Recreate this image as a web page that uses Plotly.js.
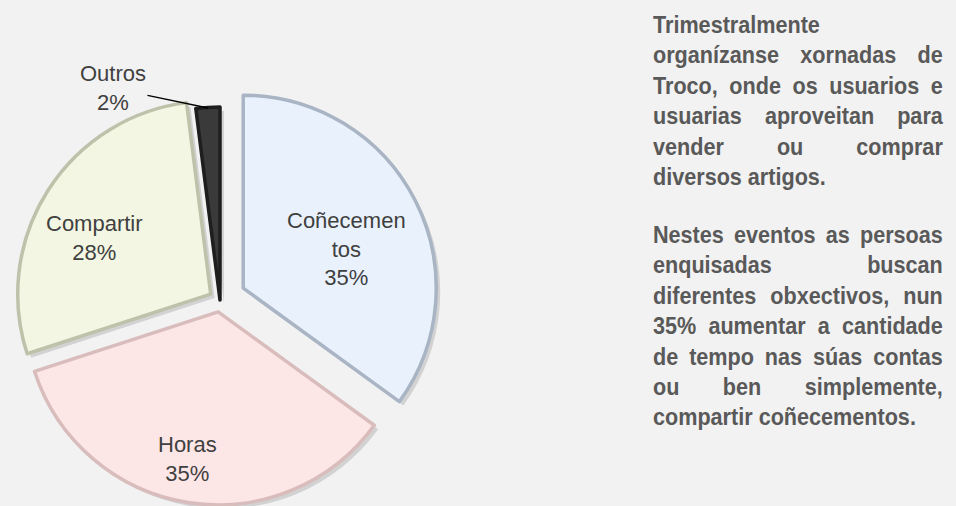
<!DOCTYPE html>
<html>
<head>
<meta charset="utf-8">
<script src="https://cdn.plot.ly/plotly-3.0.1.min.js"></script>
<style>
  html, body { margin: 0; background: #f2f2f2; overflow: hidden; }
  #wrap { position: relative; width: 956px; height: 506px; overflow: hidden; }
  #pie { position: absolute; left: 0; top: 0; width: 956px; height: 532px; }
  .note {
    position: absolute; left: 653px; top: 10px; width: 322px;
    transform: scaleX(0.9); transform-origin: 0 0;
    font-family: "Liberation Sans", Arial, sans-serif;
    font-weight: bold; font-size: 24px; line-height: 30.4px; color: #595959;
  }
  .note p { margin: 0 0 27.6px 0; }
  .note span { display: block; text-align: justify; text-align-last: justify; white-space: nowrap; }
  .note span.last { text-align-last: left; }
</style>
</head>
<body>
<div id="wrap">
  <div id="pie"></div>
  <div class="note">
    <p>
      <span class="last">Trimestralmente</span>
      <span>organízanse xornadas de</span>
      <span>Troco, onde os usuarios e</span>
      <span>usuarias aproveitan para</span>
      <span>vender ou comprar</span>
      <span class="last">diversos artigos.</span>
    </p>
    <p>
      <span>Nestes eventos as persoas</span>
      <span>enquisadas buscan</span>
      <span>diferentes obxectivos, nun</span>
      <span>35% aumentar a cantidade</span>
      <span>de tempo nas súas contas</span>
      <span>ou ben simplemente,</span>
      <span class="last">compartir coñecementos.</span>
    </p>
  </div>
</div>
<script>
let categories = ["Coñecementos", "Horas", "Compartir", "Outros"];
let shown_names = ["Coñecemen<br>tos", "Horas", "Compartir", "Outros"];
let shares = [35, 35, 28, 2];

// look
let slice_colors = ["#e9f2fc", "#fde6e6", "#f3f6e2", "#3a3a3a"];
let edge_colors = ["#a9b5c4", "#d9bcbc", "#bec2aa", "#1e1e1e"];
let pulls = [0.135, 0.062, 0.057, 0];
let label_dist = [0.57, 0.78, 0.67];      // fraction of radius, from the slice tip
let label_turn = [5, 2.5, -6];            // degrees off the slice middle

let label_font = "Liberation Sans, Arial, sans-serif";
const W = 956, H = 532;
const cx = 220, cy = 300, rad = 193;

const maxPull = Math.max(...pulls);
const half = rad * (1 + maxPull);

function pieDomain(dx, dy) {
  return {
    x: [(cx + dx - half) / W, (cx + dx + half) / W],
    y: [1 - (cy + dy + half) / H, 1 - (cy + dy - half) / H]
  };
}

// soft drop shadow under the slices
let shadow = {
  type: "pie",
  labels: categories,
  values: shares,
  textinfo: "none",
  sort: false,
  direction: "clockwise",
  rotation: 0,
  pull: pulls,
  marker: { colors: shares.map(() => "rgba(0,0,0,0.13)"), line: { width: 0 } },
  hoverinfo: "skip",
  domain: pieDomain(4, 4)
};

let trace = {
  type: "pie",
  labels: categories,
  values: shares,
  textinfo: "none",
  sort: false,
  direction: "clockwise",
  rotation: 0,
  pull: pulls,
  marker: {
    colors: slice_colors,
    line: { color: edge_colors, width: 3.5 }
  },
  hoverinfo: "label+percent",
  domain: pieDomain(0, 0)
};

// labels placed along each slice's middle angle
let total = shares.reduce((p, c) => p + c, 0);
let annotations = [];
let start = 0;
shares.forEach((v, i) => {
  let mid = (start + v / 2) / total * 360;
  start += v;
  if (i >= label_dist.length) return;
  let a = (mid + label_turn[i]) * Math.PI / 180;
  let d = (pulls[i] + label_dist[i]) * rad;
  let px = cx + d * Math.sin(a);
  let py = cy - d * Math.cos(a);
  annotations.push({
    xref: "paper", yref: "paper", x: px / W, y: 1 - py / H,
    xanchor: "center", yanchor: "middle", showarrow: false,
    text: shown_names[i] + "<br>" + v + "%",
    font: { family: label_font, size: 22, color: "#404040" }
  });
});

// small slice gets a label outside with a leader line
let last = shares.length - 1;
annotations.push({
  xref: "paper", yref: "paper",
  x: 208 / W, y: 1 - 108 / H,
  ax: -95, ay: -20,
  text: shown_names[last] + "<br>" + shares[last] + "%",
  showarrow: true, arrowhead: 0, arrowwidth: 1.3, arrowcolor: "#000000",
  font: { family: label_font, size: 22, color: "#404040" }
});

let layout = {
  width: W,
  height: H,
  margin: { l: 0, r: 0, t: 0, b: 0 },
  paper_bgcolor: "#f2f2f2",
  showlegend: false,
  annotations: annotations
};

Plotly.newPlot("pie", [shadow, trace], layout, { displayModeBar: false, staticPlot: true });
</script>
</body>
</html>
